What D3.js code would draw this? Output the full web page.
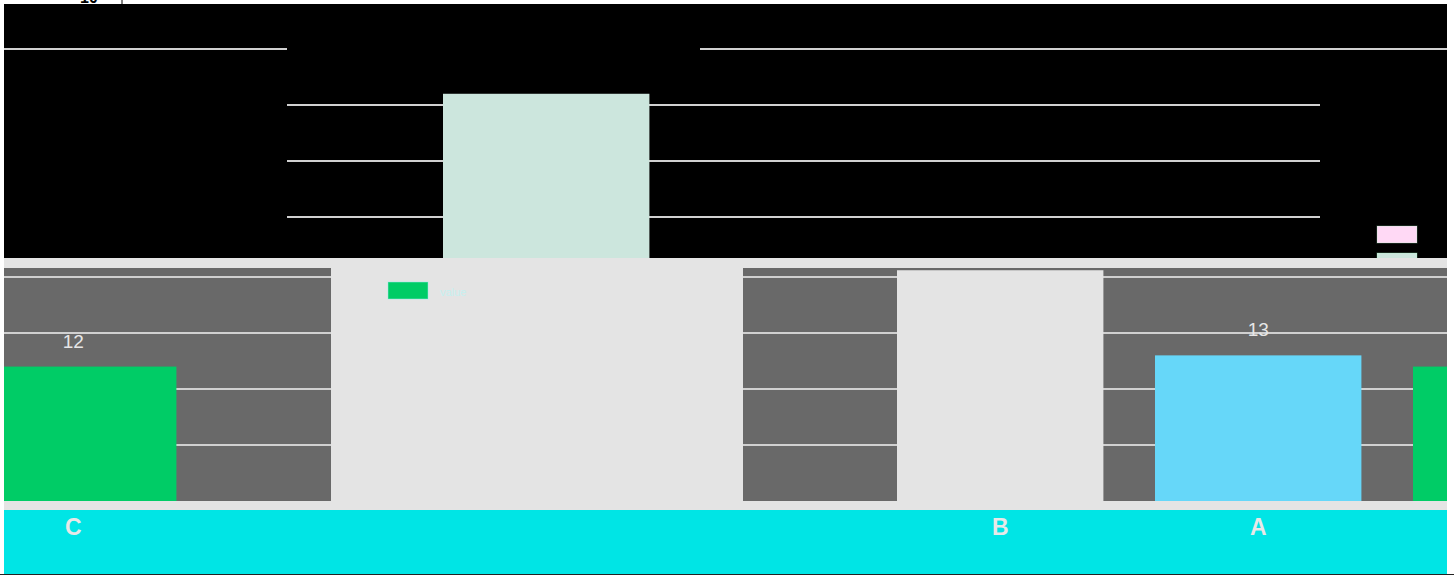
<!DOCTYPE html>
<html>
<head>
<meta charset="utf-8">
<script src="https://cdn.jsdelivr.net/npm/d3@7"></script>
<style>
  html, body { margin: 0; padding: 0; background: #fff; }
  svg { display: block; font-family: 'Liberation Sans', Arial, sans-serif; }
</style>
</head>
<body>
<svg id="chart" width="1454" height="575"></svg>
<script>
// data
const categories = ['E', 'C', 'B', 'A', 'D']
const values = [16, 12, 20.6, 13, 12]
const barColors = ['#cce6dd', '#00cc66', '#e4e4e4', '#66d7f9', '#00cc66']
const yTicks = [5, 10, 15, 20]
const legendColors = ['#ffd9f5', '#cce6dd']
const legendLabel = 'value'

const W = 1454, H = 575
const svg = d3.select('#chart')
const defs = svg.append('defs')

const x = d3.scaleBand()
  .domain(categories)
  .range([329.4, 1671])
  .paddingInner(0.2)
  .paddingOuter(0.2)

const y = d3.scaleLinear()
  .domain([0, 20.8])
  .range([501, 268])

const rows = categories.map((c, i) => ({ cat: c, value: values[i], color: barColors[i] }))

const clip = (id, rects) => {
  const cp = defs.append('clipPath').attr('id', id)
  rects.forEach(r => cp.append('rect').attr('x', r[0]).attr('y', r[1]).attr('width', r[2]).attr('height', r[3]))
  return `url(#${id})`
}

// page frame
svg.append('rect').attr('width', W).attr('height', H).attr('fill', '#fff')
svg.append('rect').attr('x', 4).attr('y', 4).attr('width', 1443).attr('height', 256).attr('fill', '#000')
svg.append('rect').attr('x', 4).attr('y', 258).attr('width', 1443).attr('height', 316).attr('fill', '#e4e4e4')

// one copy of the chart, shifted and clipped
const drawChart = (g, opts) => {
  if (opts.plotBg) {
    g.append('rect')
      .attr('x', -2000).attr('width', 6000)
      .attr('y', y.range()[1]).attr('height', y(0) - y.range()[1])
      .attr('fill', opts.plotBg)
  }
  g.selectAll('line.grid')
    .data(opts.ticks)
    .join('line')
    .attr('class', 'grid')
    .attr('x1', -2000).attr('x2', 4000)
    .attr('y1', d => y(d)).attr('y2', d => y(d))
    .attr('stroke', '#d0d0d0')
    .attr('stroke-width', 2)
  const bars = rows.filter(d => opts.cats.includes(d.cat))
  g.selectAll('rect.bar')
    .data(bars)
    .join('rect')
    .attr('class', 'bar')
    .attr('x', d => x(d.cat))
    .attr('width', x.bandwidth())
    .attr('y', d => y(d.value))
    .attr('height', d => y(0) - y(d.value))
    .attr('fill', d => d.color)
  if (opts.labelCats) {
    g.selectAll('text.val')
      .data(bars.filter(d => opts.labelCats.includes(d.cat)))
      .join('text')
      .attr('class', 'val')
      .attr('x', d => x(d.cat) + x.bandwidth() / 2)
      .attr('y', d => y(d.value) - 19)
      .attr('text-anchor', 'middle')
      .attr('fill', '#e6e6e6')
      .style('font-size', '19px')
      .text(d => d.value)
  }
  if (opts.axis) {
    g.append('rect')
      .attr('x', -2000).attr('width', 6000)
      .attr('y', 510).attr('height', 64)
      .attr('fill', '#00e5e5')
    const ax = g.append('g')
      .attr('transform', 'translate(0,510)')
      .call(d3.axisBottom(x).tickSize(0).tickPadding(9).tickFormat(d => opts.axisCats.includes(d) ? d : ''))
    ax.select('.domain').remove()
    ax.selectAll('text')
      .attr('fill', '#e8e8e8')
      .style('font-size', '23px')
      .style('font-weight', 'bold')
      .style('font-family', "'Liberation Sans', Arial, sans-serif")
  }
}

// upper (black) copy, shifted up
const up = svg.append('g').attr('clip-path', clip('cUp', [[287, 4, 1033, 254]]))
  .append('g').attr('transform', 'translate(62,-228)')
drawChart(up, { ticks: [5, 10, 15], cats: ['E'] })

const up2 = svg.append('g').attr('clip-path', clip('cUp2', [[4, 4, 283, 254], [700, 4, 747, 254]]))
  .append('g').attr('transform', 'translate(62,-228)')
drawChart(up2, { ticks: [20], cats: [] })

// legend swatches of the upper copy
svg.append('g').attr('clip-path', clip('cLeg', [[1370, 200, 60, 58]]))
  .selectAll('rect')
  .data(legendColors)
  .join('rect')
  .attr('x', 1377).attr('width', 40)
  .attr('y', (d, i) => 226 + i * 27).attr('height', 17)
  .attr('fill', d => d)
  .attr('stroke', '#9fb')
  .attr('stroke-opacity', 0.3)

// left copy showing C
const left = svg.append('g').attr('clip-path', clip('cLeft', [[4, 268, 327, 306]]))
  .append('g').attr('transform', 'translate(-669,0)')
drawChart(left, { plotBg: '#696969', ticks: yTicks, cats: ['C'], labelCats: ['C'], axis: true, axisCats: ['C'] })

// main copy showing B, A, D
const main = svg.append('g').attr('clip-path', clip('cMain', [[743, 268, 704, 306]]))
drawChart(main, { plotBg: '#696969', ticks: yTicks, cats: ['B', 'A', 'D'], labelCats: ['A'], axis: true, axisCats: ['B', 'A'] })

// middle light panel with axis band below
const mid = svg.append('g').attr('clip-path', clip('cMid', [[331, 510, 412, 64]]))
drawChart(mid, { ticks: [], cats: [], axis: true, axisCats: [] })

// legend in the middle panel
svg.append('rect').attr('x', 388).attr('y', 282).attr('width', 40).attr('height', 17)
  .attr('fill', '#00cc66').attr('stroke', '#9ee').attr('stroke-opacity', 0.5)
svg.append('text').attr('x', 440).attr('y', 296)
  .attr('fill', '#c6f0f0').style('font-size', '11px').text(legendLabel)

// top strip remains
svg.append('text').attr('x', 80).attr('y', 3)
  .style('font-size', '16px').style('font-weight', 'bold').attr('fill', '#000').text('10')
svg.append('line').attr('x1', 122).attr('x2', 122).attr('y1', 0).attr('y2', 4).attr('stroke', '#000')
svg.append('line').attr('x1', 0).attr('x2', W).attr('y1', 574.5).attr('y2', 574.5).attr('stroke', '#222')
</script>
</body>
</html>
